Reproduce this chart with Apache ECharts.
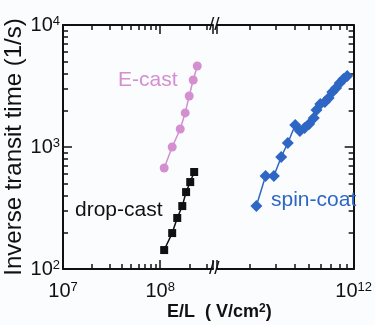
<!DOCTYPE html>
<html><head><meta charset="utf-8">
<script src="https://cdn.jsdelivr.net/npm/echarts@6/dist/echarts.min.js"></script>
<style>html,body{margin:0;padding:0;background:#fff}#c{width:375px;height:325px}</style>
</head><body><div id="c"></div>
<script>
// ---- data ----
const eCastX = [1.10e8, 1.33e8, 1.61e8, 1.81e8, 1.99e8, 2.19e8, 2.41e8];
const eCastY = [673, 1000, 1406, 1902, 2619, 3540, 4613];
const dropX = [1.10e8, 1.33e8, 1.50e8, 1.69e8, 1.85e8, 2.04e8, 2.24e8];
const dropY = [143, 197, 262, 328, 427, 516, 624];
const spinX = [2.21e11, 2.55e11, 2.90e11, 3.25e11, 3.60e11, 4.04e11, 4.34e11, 4.67e11, 5.01e11, 5.39e11, 5.62e11, 5.96e11, 6.40e11, 6.78e11, 7.18e11, 7.61e11, 8.06e11, 8.54e11, 9.05e11];
const spinY = [328, 578, 578, 828, 1079, 1514, 1352, 1432, 1544, 1730, 2011, 2250, 2337, 2522, 2826, 3049, 3350, 3610, 3822];
const xLeftRange = [1e7, 3.5e8];
const xRightRange = [1.2e11, 1e12];
const yRange = [100, 10000];
const labels = {eCast: 'E-cast', drop: 'drop-cast', spin: 'spin-coat'};
const yTitle = 'Inverse transit time (1/s)';

const FONT = 'Arial';
const PINK = '#d48fd0', BLUE = '#2e66c4', BLACK = '#111';
const zip = (a, b) => a.map((v, i) => [v, b[i]]);

function powLabel(v) {
  const l = Math.log10(v), e = Math.round(l);
  if (Math.abs(l - e) > 1e-6) return '';
  return '{b|10}{s|' + e + '}';
}
const richSup = {
  b: {fontSize: 20, lineHeight: 20, fontFamily: FONT, color: BLACK, verticalAlign: 'bottom', padding: [3, 0, 0, 0]},
  s: {fontSize: 13, lineHeight: 13, fontFamily: FONT, color: BLACK, verticalAlign: 'top'}
};
function logAxis(extra) {
  return Object.assign({
    type: 'log', logBase: 10,
    axisLine: {show: true, onZero: false, lineStyle: {color: BLACK, width: 2}},
    axisTick: {show: true, inside: true, length: 9, lineStyle: {color: BLACK, width: 1.5}},
    minorTick: {show: true, splitNumber: 9, length: 5, lineStyle: {color: BLACK, width: 1.5}},
    splitLine: {show: false}, minorSplitLine: {show: false}
  }, extra);
}
function note(text, left, top, color, size, extra) {
  return Object.assign({text, left, top, padding: 0, textAlign: 'left', textVerticalAlign: 'top',
    textStyle: {fontSize: size, fontWeight: 'normal', fontFamily: FONT, color}}, extra || {});
}

const chart = echarts.init(document.getElementById('c'));
chart.setOption({
  backgroundColor: '#fbfcfe',
  animation: false,
  title: [
    note(labels.eCast, 118, 70, PINK, 21),
    note(labels.drop, 75, 200, BLACK, 21),
    note(labels.spin, 271, 190, BLUE, 21),
    note('{a|E/L  ( V/cm}{s|2}{a|)}', 167, 303, BLACK, 18, {textStyle: {rich: {
      a: {fontSize: 18, lineHeight: 18, fontFamily: FONT, color: BLACK, verticalAlign: 'bottom', padding: [3, 0, 0, 0]},
      s: {fontSize: 12, lineHeight: 12, fontFamily: FONT, color: BLACK, verticalAlign: 'top'}}}}),
    // axis break marks
    note('//', 209, 15, BLACK, 19),
    note('//', 209, 259, BLACK, 19)
  ],
  grid: [
    {left: 63, top: 25, width: 150, height: 244},
    {left: 217, top: 25, width: 146, height: 244}
  ],
  xAxis: [
    logAxis({gridIndex: 0, min: xLeftRange[0], max: xLeftRange[1],
      axisLabel: {formatter: powLabel, rich: richSup, margin: 12, showMaxLabel: false}}),
    logAxis({gridIndex: 1, min: xRightRange[0], max: xRightRange[1],
      axisLabel: {formatter: powLabel, rich: richSup, margin: 12, showMinLabel: false}}),
    logAxis({gridIndex: 0, position: 'top', min: xLeftRange[0], max: xLeftRange[1], axisLabel: {show: false}}),
    logAxis({gridIndex: 1, position: 'top', min: xRightRange[0], max: xRightRange[1], axisLabel: {show: false}})
  ],
  yAxis: [
    logAxis({gridIndex: 0, min: yRange[0], max: yRange[1],
      name: yTitle, nameLocation: 'middle', nameRotate: 90, nameGap: 33,
      nameTextStyle: {fontSize: 24, fontFamily: FONT, color: BLACK},
      axisLabel: {formatter: powLabel, rich: richSup, margin: 3}}),
    logAxis({gridIndex: 1, position: 'right', min: yRange[0], max: yRange[1], axisLabel: {show: false}})
  ],
  series: [
    {type: 'line', xAxisIndex: 0, yAxisIndex: 0, data: zip(eCastX, eCastY),
      symbol: 'circle', symbolSize: 9, lineStyle: {color: PINK, width: 1.5}, itemStyle: {color: PINK}},
    {type: 'line', xAxisIndex: 0, yAxisIndex: 0, data: zip(dropX, dropY),
      symbol: 'rect', symbolSize: 8, lineStyle: {color: BLACK, width: 1.5}, itemStyle: {color: BLACK}},
    {type: 'line', xAxisIndex: 1, yAxisIndex: 1, data: zip(spinX, spinY),
      symbol: 'diamond', symbolSize: 12, lineStyle: {color: BLUE, width: 1.5}, itemStyle: {color: BLUE}}
  ]
});
</script>
</body></html>
